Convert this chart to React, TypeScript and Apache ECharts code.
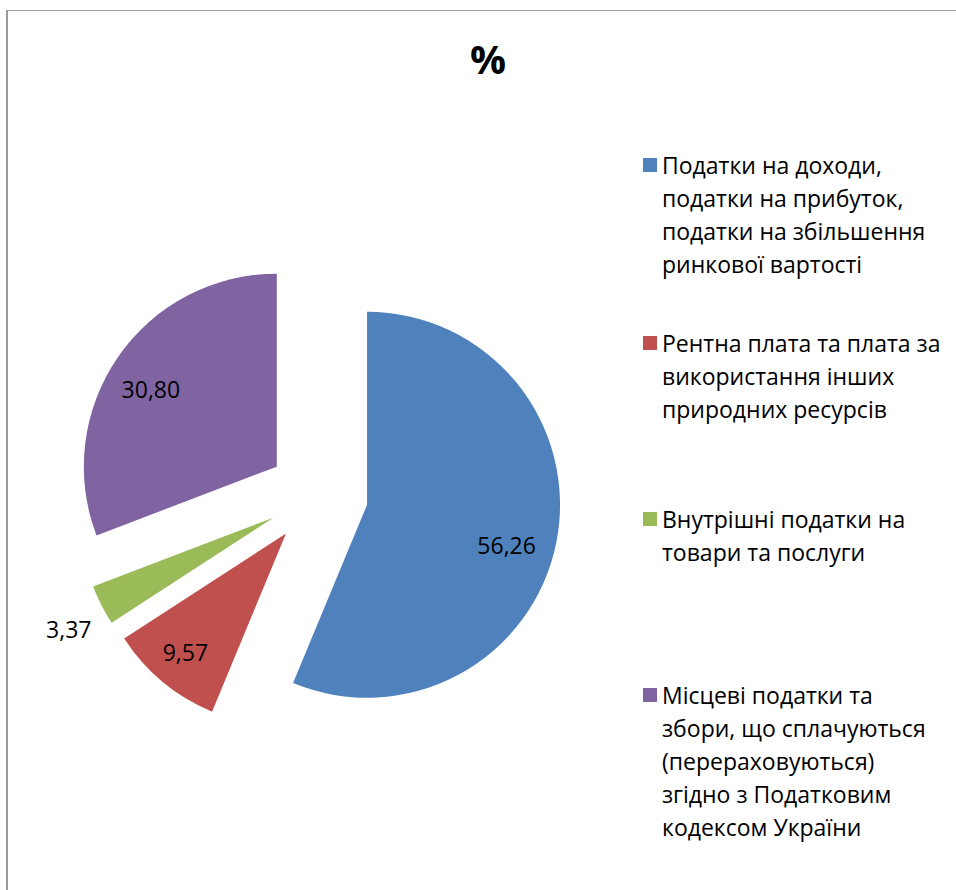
import React, { useEffect, useRef } from "react";
import * as echarts from "echarts";

const categories = [
  "Податки на доходи, податки на прибуток, податки на збільшення ринкової вартості",
  "Рентна плата та плата за використання інших природних ресурсів",
  "Внутрішні податки на товари та послуги",
  "Місцеві податки та збори, що сплачуються (перераховуються) згідно з Податковим кодексом України",
];
const values = [56.26, 9.57, 3.37, 30.8];
const legendLines = [
  ["Податки на доходи,", "податки на прибуток,", "податки на збільшення", "ринкової вартості"],
  ["Рентна плата та плата за", "використання інших", "природних ресурсів"],
  ["Внутрішні податки на", "товари та послуги"],
  ["Місцеві податки та", "збори, що сплачуються", "(перераховуються)", "згідно з Податковим", "кодексом України"],
];
const colors = ["#4F81BD", "#C0504D", "#9BBB59", "#8064A2"];
const titleText = "%";

const FONT = "'Open Sans', 'Noto Sans', sans-serif";
const LH = 33;
const legendIconCenters = [165, 343, 519, 695];
const labelOffsets = [
  [42, 21],
  [-37, 42],
  [-116, 66],
  [-44, -21],
];

export default function App() {
  const ref = useRef<HTMLDivElement>(null);
  useEffect(() => {
    if (!ref.current) return;
    const chart = echarts.init(ref.current, null, { renderer: "svg" });
    const legends = categories.map((name, i) => {
      const n = legendLines[i].length;
      // leading blank lines keep the first text line level with the icon
      const text = new Array(n - 1).fill("").concat(legendLines[i]).join("\n");
      return {
        orient: "vertical",
        left: 643,
        top: legendIconCenters[i] - ((2 * n - 1) * LH) / 2,
        padding: 0,
        itemGap: 0,
        itemWidth: 14,
        itemHeight: 14,
        icon: "rect",
        selectedMode: false,
        formatter: () => text,
        textStyle: { fontFamily: FONT, fontSize: 23, lineHeight: LH, color: "#000" },
        data: [name],
      };
    });
    chart.setOption({
      animation: false,
      backgroundColor: "#fff",
      color: colors,
      title: {
        text: titleText,
        left: 465,
        top: 33,
        textStyle: { fontFamily: FONT, fontSize: 40, fontWeight: "bold", color: "#000" },
      },
      legend: legends,
      graphic: [
        { type: "line", shape: { x1: 7, y1: 10, x2: 7, y2: 900 }, style: { stroke: "#999", lineWidth: 2 } },
        { type: "line", shape: { x1: 6, y1: 10.5, x2: 960, y2: 10.5 }, style: { stroke: "#999", lineWidth: 1 } },
      ],
      series: [
        {
          type: "pie",
          center: [318, 495],
          radius: 193,
          startAngle: 90,
          clockwise: true,
          selectedMode: "multiple",
          selectedOffset: 50,
          avoidLabelOverlap: false,
          itemStyle: { borderWidth: 0 },
          emphasis: { disabled: true },
          select: { itemStyle: { borderWidth: 0 } },
          label: {
            show: true,
            position: "inside",
            color: "#000",
            fontFamily: FONT,
            fontSize: 23,
            formatter: (p: any) => p.value.toFixed(2).replace(".", ","),
          },
          labelLine: { show: false },
          labelLayout: (p: any) => ({ dx: labelOffsets[p.dataIndex][0], dy: labelOffsets[p.dataIndex][1] }),
          data: categories.map((name, i) => ({ name, value: values[i], selected: true })),
        },
      ],
    });
    return () => chart.dispose();
  }, []);
  return <div ref={ref} style={{ position: "fixed", left: 0, top: 0, width: 956, height: 890 }} />;
}
